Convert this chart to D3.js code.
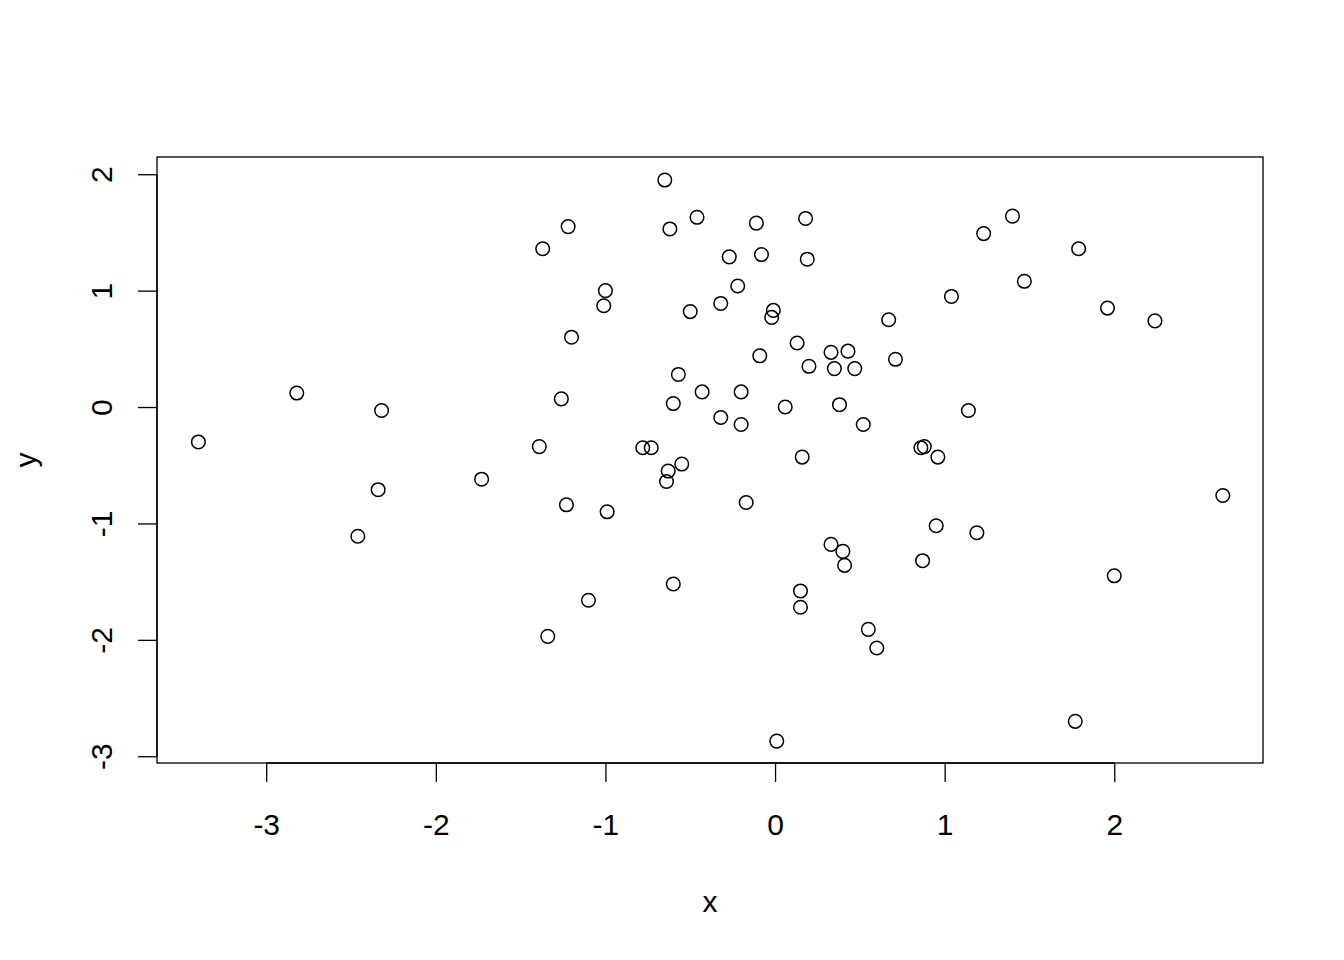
<!DOCTYPE html>
<html><head><meta charset="utf-8">
<script src="https://cdn.jsdelivr.net/npm/d3@7"></script>
<style>body{margin:0;background:#fff}</style>
</head><body>
<svg id="c" width="1344" height="960"></svg>
<script>
const xs = [-3.40,-2.82,-2.32,-2.34,-2.46,-1.73,-1.37,-1.22,-1.20,-1.26,-1.39,-1.23,-1.34,-1.10,-1.00,-1.01,-0.99,
-0.65,-0.62,-0.46,-0.50,-0.57,-0.60,-0.43,-0.78,-0.73,-0.63,-0.55,-0.64,-0.60,-0.27,-0.32,-0.22,-0.11,-0.08,-0.09,
-0.20,-0.32,-0.20,-0.17,-0.01,-0.02,0.06,0.01,0.18,0.19,0.13,0.20,0.16,0.15,0.15,0.33,0.43,0.35,0.47,0.38,0.52,
0.33,0.40,0.41,0.55,0.60,0.67,0.71,0.86,0.88,0.96,0.95,0.87,1.04,1.14,1.19,1.23,1.40,1.47,1.79,1.77,1.96,2.00,2.24,2.64];
const ys = [-0.30,0.12,-0.03,-0.71,-1.11,-0.62,1.36,1.55,0.60,0.07,-0.34,-0.84,-1.97,-1.66,1.00,0.87,-0.90,
1.95,1.53,1.63,0.82,0.28,0.03,0.13,-0.35,-0.35,-0.55,-0.49,-0.64,-1.52,1.29,0.89,1.04,1.58,1.31,0.44,
0.13,-0.09,-0.15,-0.82,0.83,0.77,0.00,-2.87,1.62,1.27,0.55,0.35,-0.43,-1.58,-1.72,0.47,0.48,0.33,0.33,0.02,-0.15,
-1.18,-1.24,-1.36,-1.91,-2.07,0.75,0.41,-0.35,-0.34,-0.43,-1.02,-1.32,0.95,-0.03,-1.08,1.49,1.64,1.08,1.36,-2.70,0.85,-1.45,0.74,-0.76];
const xTicks = [-3,-2,-1,0,1,2];
const yTicks = [-3,-2,-1,0,1,2];
const xLabel = "x", yLabel = "y";

const svg = d3.select("#c");
const L=157, R=1263, T=157, B=763;
const x = d3.scaleLinear().domain([-3.644, 2.877]).range([L, R]);
const y = d3.scaleLinear().domain([-3.058, 2.148]).range([B, T]);
const font = "'Liberation Sans', Arial, Helvetica, sans-serif";
const fs = 30;
const fmt = d => d<0 ? "-"+Math.abs(d) : String(d);

svg.append("rect").attr("x",L).attr("y",T).attr("width",R-L).attr("height",B-T)
  .attr("fill","none").attr("stroke","#000").attr("stroke-width",1.3);

const xa = svg.append("g").attr("transform",`translate(0,${B})`)
  .call(d3.axisBottom(x).tickValues(xTicks).tickSize(19).tickFormat(fmt));
xa.select(".domain").attr("d",`M${x(-3)},0H${x(2)}`).attr("stroke-width",1.3);
xa.selectAll(".tick line").attr("stroke-width",1.3);
xa.selectAll("text").attr("font-family",font).attr("font-size",fs).attr("fill","#000")
  .attr("y",72).attr("dy",0);

const ya = svg.append("g").attr("transform",`translate(${L},0)`)
  .call(d3.axisLeft(y).tickValues(yTicks).tickSize(19).tickFormat(fmt));
ya.select(".domain").attr("d",`M0,${y(-3)}V${y(2)}`).attr("stroke-width",1.3);
ya.selectAll(".tick line").attr("stroke-width",1.3);
ya.selectAll("text").attr("font-family",font).attr("font-size",fs).attr("fill","#000")
  .attr("x",0).attr("dy",0).attr("text-anchor","middle")
  .attr("transform","translate(-45,0) rotate(-90)");

svg.append("text").attr("x",(L+R)/2).attr("y",912).attr("text-anchor","middle")
  .attr("font-family",font).attr("font-size",fs).text(xLabel);
svg.append("text").attr("transform",`translate(36,${(T+B)/2}) rotate(-90)`).attr("text-anchor","middle")
  .attr("font-family",font).attr("font-size",fs).text(yLabel);

svg.append("g").selectAll("circle").data(xs.map((v,i)=>[v,ys[i]])).join("circle")
  .attr("cx",d=>x(d[0])).attr("cy",d=>y(d[1])).attr("r",6.8)
  .attr("fill","none").attr("stroke","#000").attr("stroke-width",1.5);
</script>
</body></html>
